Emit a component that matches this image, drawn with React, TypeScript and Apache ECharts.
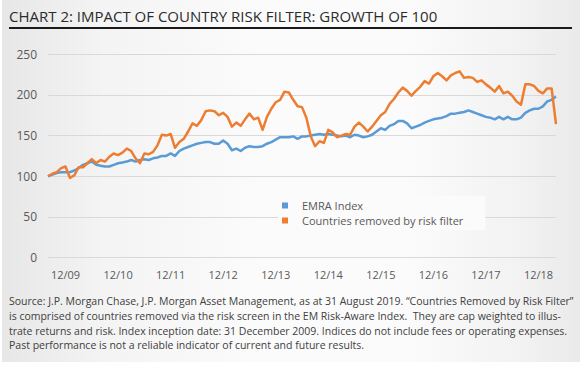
import React, { useEffect, useRef } from 'react';
import * as echarts from 'echarts';

const emraIndex = [
  100, 102, 104, 105, 105, 105, 107, 110, 114, 116, 118, 114, 113, 112, 112, 114, 116, 117, 118, 120,
  118, 120, 121, 120, 122, 123, 125, 125, 128, 125, 131, 134, 136, 138, 140, 141, 142, 142, 140, 140,
  144, 140, 132, 134, 131, 135, 137, 136, 136, 137, 140, 142, 145, 148, 148, 148, 149, 146, 149, 149,
  150, 151, 152, 151, 152, 151, 150, 149, 150, 148, 151, 150, 148, 149, 151, 155, 159, 157, 162, 164,
  168, 168, 165, 159, 161, 163, 166, 168, 170, 171, 172, 174, 177, 177, 178, 179, 181, 179, 177, 175,
  173, 172, 170, 173, 170, 173, 170, 170, 172, 178, 181, 183, 183, 186, 192, 194, 198,
];

const removedByFilter = [
  100, 103, 105, 110, 112, 98, 101, 111, 111, 116, 121, 116, 120, 118, 124, 128, 126, 129, 134, 131,
  122, 116, 128, 127, 130, 138, 151, 150, 152, 135, 142, 146, 155, 165, 162, 169, 180, 181, 180, 175,
  178, 173, 161, 166, 162, 170, 177, 170, 172, 157, 173, 183, 191, 194, 204, 203, 194, 186, 185, 172,
  149, 137, 143, 141, 157, 154, 148, 150, 152, 151, 161, 166, 161, 155, 161, 168, 175, 179, 189, 195,
  203, 209, 205, 199, 205, 210, 217, 214, 223, 227, 223, 218, 224, 227, 229, 221, 222, 221, 216, 218,
  213, 209, 204, 211, 202, 204, 199, 192, 188, 213, 213, 211, 205, 202, 208, 208, 164,
];

const xTickLabels = ['12/09', '12/10', '12/11', '12/12', '12/13', '12/14', '12/15', '12/16', '12/17', '12/18'];
const seriesNames = ['EMRA Index', 'Countries removed by risk filter'];
const seriesColors = ['#5b9bd5', '#ed7d31'];
const titleText = 'CHART 2: IMPACT OF COUNTRY RISK FILTER: GROWTH OF 100';
const footnoteLines = [
  'Source: J.P. Morgan Chase, J.P. Morgan Asset Management, as at 31 August 2019. \u201cCountries Removed by Risk Filter\u201d',
  'is comprised of countries removed via the risk screen in the EM Risk-Aware Index.  They are cap weighted to illus-',
  'trate returns and risk. Index inception date: 31 December 2009. Indices do not include fees or operating expenses.',
  'Past performance is not a reliable indicator of current and future results.',
];

const months: string[] = [];
for (let i = 0; i < emraIndex.length; i++) {
  const m = (11 + i) % 12;
  const y = 2009 + Math.floor((11 + i) / 12);
  months.push(`${y}-${String(m + 1).padStart(2, '0')}`);
}
const firstLabelIndex = 4;
const labelStep = 12;

const FONT = "'Open Sans', 'Noto Sans', sans-serif";

export default function App() {
  const ref = useRef<HTMLDivElement>(null);

  useEffect(() => {
    if (!ref.current) return;
    const chart = echarts.init(ref.current, undefined, { renderer: 'svg' });
    const graphics: any[] = [
      {
        type: 'text',
        left: 9,
        top: 8,
        style: { text: titleText, font: `15px ${FONT}`, fill: '#2b2b2b' },
      },
      {
        type: 'rect',
        shape: { x: 9, y: 27, width: 563, height: 2 },
        style: { fill: '#1a1a1a' },
      },
    ];
    footnoteLines.forEach((line, k) => {
      graphics.push({
        type: 'text',
        x: 9,
        y: 301 + k * 14.8,
        style: { text: line, font: `10.5px ${FONT}`, fill: '#404040', verticalAlign: 'middle' },
      });
    });

    chart.setOption({
      animation: false,
      backgroundColor: 'transparent',
      textStyle: { fontFamily: FONT },
      grid: { left: 48, right: 27, top: 54.3, bottom: 108.5, containLabel: false },
      legend: {
        orient: 'vertical',
        left: 278,
        top: 196,
        padding: [4, 22, 4, 4],
        backgroundColor: '#fbfbfb',
        itemWidth: 6,
        itemHeight: 6,
        itemGap: 4,
        icon: 'rect',
        textStyle: { fontSize: 11, color: '#595959', fontFamily: FONT, padding: [0, 0, 0, 9] },
        data: seriesNames,
      },
      xAxis: {
        type: 'category',
        data: months,
        boundaryGap: false,
        axisLine: { show: false },
        axisTick: { show: false },
        axisLabel: {
          margin: 11,
          fontSize: 11,
          color: '#595959',
          interval: (index: number) => index >= firstLabelIndex && (index - firstLabelIndex) % labelStep === 0,
          formatter: (_v: string, index: number) => xTickLabels[(index - firstLabelIndex) / labelStep] ?? '',
        },
        splitLine: { show: false },
      },
      yAxis: {
        type: 'value',
        min: 0,
        max: 250,
        interval: 50,
        axisLine: { show: false },
        axisTick: { show: false },
        axisLabel: { margin: 11, fontSize: 12, color: '#595959' },
        splitLine: { lineStyle: { color: '#d9d9d9', width: 1.2 } },
      },
      series: [
        {
          name: seriesNames[0],
          type: 'line',
          data: emraIndex,
          symbol: 'none',
          color: seriesColors[0],
          lineStyle: { width: 2.5, color: seriesColors[0], join: 'round' },
        },
        {
          name: seriesNames[1],
          type: 'line',
          data: removedByFilter,
          symbol: 'none',
          color: seriesColors[1],
          lineStyle: { width: 2.5, color: seriesColors[1], join: 'round' },
        },
      ],
      graphic: graphics,
    });
    return () => chart.dispose();
  }, []);

  return (
    <div
      style={{
        position: 'fixed',
        left: 0,
        top: 0,
        width: 583,
        height: 366,
        background: '#ffffff',
      }}
    >
      <div
        style={{
          position: 'absolute',
          left: 2,
          top: 0,
          width: 578,
          height: 362,
          background:
            'linear-gradient(to right, #e7e7e7 0%, #f4f4f4 18%, #fbfbfb 45%, #fbfbfb 70%, #f2f2f2 90%, #eaeaea 100%)',
        }}
      />
      <div ref={ref} style={{ position: 'absolute', left: 0, top: 0, width: 583, height: 366 }} />
    </div>
  );
}
